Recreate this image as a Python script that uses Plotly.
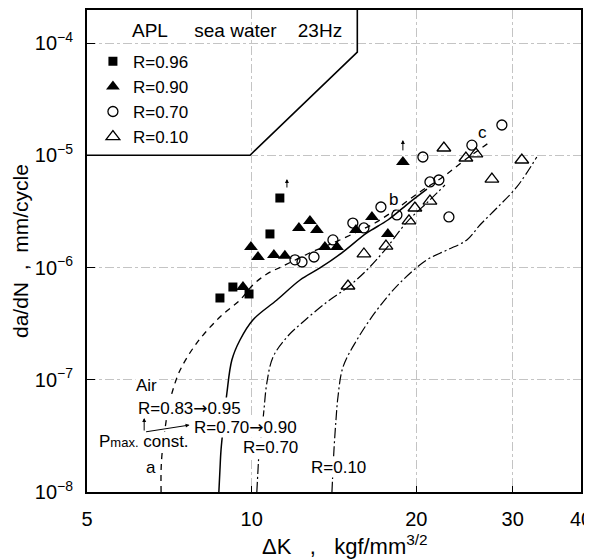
import math
import plotly.graph_objects as go

FONT = "Liberation Sans"
ARROW = "<span style='font-family:DejaVu Sans'>\u2192</span>"

# R = 0.96, filled squares
dk_r096 = [8.75, 9.24, 9.89, 10.8, 11.26]
rate_r096 = [5.35e-7, 6.70e-7, 5.81e-7, 1.99e-6, 4.16e-6]

# R = 0.90, filled triangles
dk_r090 = [9.64, 9.97, 10.27, 10.98, 11.5, 12.2, 12.78, 13.16, 13.61, 14.32,
           15.51, 16.59, 17.74, 18.9]
rate_r090 = [6.70e-7, 1.52e-6, 1.24e-6, 1.29e-6, 1.27e-6, 2.25e-6, 2.60e-6,
             2.16e-6, 1.52e-6, 1.52e-6, 2.16e-6, 2.82e-6, 1.99e-6, 8.71e-6]

# R = 0.70, open circles
dk_r070 = [12.0, 12.36, 13.0, 14.08, 15.31, 16.04, 17.23, 18.43, 20.56, 21.18,
           21.99, 22.94, 25.27, 28.67]
rate_r070 = [1.17e-6, 1.12e-6, 1.24e-6, 1.76e-6, 2.49e-6, 2.25e-6, 3.46e-6,
             2.94e-6, 9.65e-6, 5.78e-6, 6.02e-6, 2.82e-6, 1.23e-5, 1.86e-5]

# R = 0.10, open triangles
dk_r010 = [15.0, 16.04, 17.6, 19.39, 19.88, 21.18, 22.46, 24.64, 25.7, 27.49, 31.18]
rate_r010 = [6.84e-7, 1.32e-6, 1.55e-6, 2.60e-6, 3.39e-6, 3.91e-6, 1.16e-5,
             9.45e-6, 1.03e-5, 6.14e-6, 9.07e-6]

# run-out arrows (head positions)
runout_dk = [11.6, 18.9]
runout_rate = [6.14e-6, 1.37e-5]

# air curve a (dashed)
air_dk = [6.83, 6.83, 6.86, 6.94, 7.03, 7.15, 7.40, 7.94, 8.75, 9.52, 10.05,
          10.66, 11.41, 12.78, 14.08, 15.57, 16.8, 18.27, 20.3, 22.36, 24.53, 27.26]
air_rate = [1e-8, 1.57e-8, 2.23e-8, 3.57e-8, 5.38e-8, 7.62e-8, 1.22e-7, 2.13e-7,
            3.62e-7, 5.13e-7, 6.98e-7, 8.75e-7, 1.03e-6, 1.35e-6, 1.65e-6,
            2.07e-6, 2.49e-6, 3.25e-6, 4.71e-6, 6.40e-6, 9.07e-6, 1.31e-5]

# air curve b, R=0.70 -> 0.90 (solid)
b_dk = [8.71, 8.75, 8.79, 8.90, 9.01, 9.20, 9.52, 10.05, 11.12, 12.26, 13.33,
        14.62, 16.24, 17.74, 19.47, 20.91]
b_rate = [1e-8, 1.57e-8, 2.37e-8, 4.38e-8, 7.62e-8, 1.50e-7, 2.26e-7, 3.41e-7,
          5.13e-7, 7.74e-7, 9.90e-7, 1.35e-6, 2.03e-6, 2.65e-6, 3.83e-6, 5.0e-6]

# air R=0.70 (dash-dot)
c70_dk = [10.22, 10.27, 10.31, 10.44, 10.53, 10.66, 10.94, 11.6, 12.41, 13.73,
          15.0, 16.24, 17.52, 19.22, 21.18, 22.56]
c70_rate = [1e-8, 1.57e-8, 2.14e-8, 3.57e-8, 5.38e-8, 9.36e-8, 1.59e-7, 2.40e-7,
            3.27e-7, 4.93e-7, 6.70e-7, 9.50e-7, 1.43e-6, 2.54e-6, 4.0e-6, 5.43e-6]

# air R=0.10 (dash-dot)
c10_dk = [14.02, 14.08, 14.14, 14.26, 14.38, 14.69, 15.57, 16.94, 18.66, 20.91,
          22.75, 24.74, 26.14, 28.07, 30.53, 33.21]
c10_rate = [1e-8, 1.57e-8, 2.37e-8, 4.38e-8, 7.02e-8, 1.30e-7, 2.26e-7, 4.18e-7,
            7.28e-7, 1.17e-6, 1.43e-6, 1.76e-6, 2.39e-6, 3.39e-6, 5.22e-6, 9.65e-6]

# outline around the legend
box_dk = [5, 9.93, 15.6, 15.6]
box_rate = [1e-5, 1e-5, 8.3e-5, 1.97e-4]

# text labels (left edge, vertical centre)
labels = [
    ("Air", 6.12, 8.8e-8),
    ("R=0.83" + ARROW + "0.95", 6.17, 5.6e-8),
    ("R=0.70" + ARROW + "0.90", 7.81, 3.8e-8),
    ("P<span style='font-size:13px'>max.</span> const.", 5.24, 2.79e-8),
    ("a", 6.38, 1.67e-8),
    ("R=0.70", 9.60, 2.47e-8),
    ("R=0.10", 12.78, 1.67e-8),
    ("b", 17.74, 4.0e-6),
    ("c", 25.8, 1.61e-5),
]

fig = go.Figure()

# curves
fig.add_trace(go.Scatter(x=box_dk, y=box_rate, mode="lines",
                         line=dict(color="black", width=1.6), showlegend=False))
fig.add_trace(go.Scatter(x=air_dk, y=air_rate, mode="lines", line_shape="spline",
                         line=dict(color="black", width=1.3, dash="6px,5px"),
                         showlegend=False))
fig.add_trace(go.Scatter(x=b_dk, y=b_rate, mode="lines", line_shape="spline",
                         line=dict(color="black", width=1.5), showlegend=False))
fig.add_trace(go.Scatter(x=c70_dk, y=c70_rate, mode="lines", line_shape="spline",
                         line=dict(color="black", width=1.2, dash="10px,3px,2px,3px"),
                         showlegend=False))
fig.add_trace(go.Scatter(x=c10_dk, y=c10_rate, mode="lines", line_shape="spline",
                         line=dict(color="black", width=1.2, dash="10px,3px,2px,3px"),
                         showlegend=False))

# data points
fig.add_trace(go.Scatter(x=dk_r096, y=rate_r096, mode="markers", name="R=0.96",
                         legendgroup="a",
                         marker=dict(symbol="square", size=9, color="black")))
fig.add_trace(go.Scatter(x=dk_r090, y=rate_r090, mode="markers", name="R=0.90",
                         legendgroup="b",
                         marker=dict(symbol="triangle-up", size=12, color="black")))
fig.add_trace(go.Scatter(x=dk_r070, y=rate_r070, mode="markers", name="R=0.70",
                         legendgroup="c",
                         marker=dict(symbol="circle-open", size=10, color="black",
                                     line=dict(width=1.3))))
fig.add_trace(go.Scatter(x=dk_r010, y=rate_r010, mode="markers", name="R=0.10",
                         legendgroup="d",
                         marker=dict(symbol="triangle-up-open", size=12, color="black",
                                     line=dict(width=1.3))))

for txt, x, y in labels:
    fig.add_annotation(x=math.log10(x), y=math.log10(y), text=txt, showarrow=False,
                       xanchor="left", yanchor="middle", bgcolor="white", borderpad=0,
                       font=dict(family=FONT, size=17, color="black"))

# run-out arrows
for x, y, dy in zip(runout_dk, runout_rate, [10, 12]):
    fig.add_annotation(x=math.log10(x), y=math.log10(y), ax=0, ay=dy, text="",
                       showarrow=True, arrowhead=2, arrowsize=0.8, arrowwidth=1,
                       arrowcolor="black")

# Pmax const. arrows
fig.add_annotation(x=math.log10(6.36), y=math.log10(4.56e-8), ax=0, ay=14, text="",
                   showarrow=True, arrowhead=2, arrowsize=0.8, arrowwidth=1,
                   arrowcolor="black")
fig.add_annotation(x=math.log10(7.70), y=math.log10(3.95e-8), ax=-45, ay=7, text="",
                   showarrow=True, arrowhead=2, arrowsize=0.8, arrowwidth=1,
                   arrowcolor="black")

# legend heading
fig.add_annotation(xref="paper", yref="paper", x=0.087, y=0.9585,
                   text="APL\u00a0\u00a0\u00a0\u00a0 sea water\u00a0\u00a0\u00a0 23Hz",
                   showarrow=False, xanchor="left", yanchor="middle",
                   font=dict(family=FONT, size=19, color="black"))

# axis titles
fig.add_annotation(xref="paper", yref="paper", x=(345 - 87) / 494, y=-(545 - 492) / 482,
                   text="\u0394K\u00a0\u00a0 ,\u00a0\u00a0 kgf/mm<sup>3/2</sup>",
                   showarrow=False, xanchor="center", yanchor="middle",
                   font=dict(family=FONT, size=22, color="black"))
fig.add_annotation(xref="paper", yref="paper", x=-(87 - 20) / 494, y=0.5,
                   text="da/dN\u00a0 ,\u00a0 mm/cycle", showarrow=False, textangle=-90,
                   xanchor="center", yanchor="middle",
                   font=dict(family=FONT, size=21, color="black"))

fig.update_xaxes(type="log", range=[math.log10(5), math.log10(40)],
                 tickvals=[5, 10, 20, 30, 40], ticktext=["5", "10", "20", "30", "40"],
                 ticks="inside", ticklen=6, tickcolor="black", automargin=False,
                 showline=True, linecolor="black", linewidth=2, mirror=True,
                 showgrid=True, gridcolor="#c4c4c4", gridwidth=1, griddash="dashdot",
                 zeroline=False, ticklabelstandoff=8, ticklabeloverflow="allow",
                 tickfont=dict(family=FONT, size=20, color="black"))
fig.update_yaxes(type="log", range=[-8, -3.706],
                 tickvals=[1e-8, 1e-7, 1e-6, 1e-5, 1e-4],
                 ticktext=["10<sup>\u22128</sup>", "10<sup>\u22127</sup>",
                           "10<sup>\u22126</sup>", "10<sup>\u22125</sup>",
                           "10<sup>\u22124</sup>"],
                 ticks="inside", ticklen=8, tickcolor="black", automargin=False,
                 showline=True, linecolor="black", linewidth=2, mirror=True,
                 showgrid=True, gridcolor="#c4c4c4", gridwidth=1, griddash="dashdot",
                 zeroline=False, ticklabelstandoff=8, ticklabeloverflow="allow",
                 tickfont=dict(family=FONT, size=20, color="black"))

# the page adds an 8px body margin, so the margins are trimmed by 8px on the left/top
fig.update_layout(
    width=592, height=559,
    margin=dict(l=79, r=19, t=2, b=75, autoexpand=False),
    paper_bgcolor="white", plot_bgcolor="white",
    showlegend=True,
    legend=dict(x=0.012, y=0.93, xanchor="left", yanchor="top",
                bgcolor="rgba(0,0,0,0)", tracegroupgap=0,
                font=dict(family=FONT, size=17, color="black")),
)

fig.write_html("out.html")
